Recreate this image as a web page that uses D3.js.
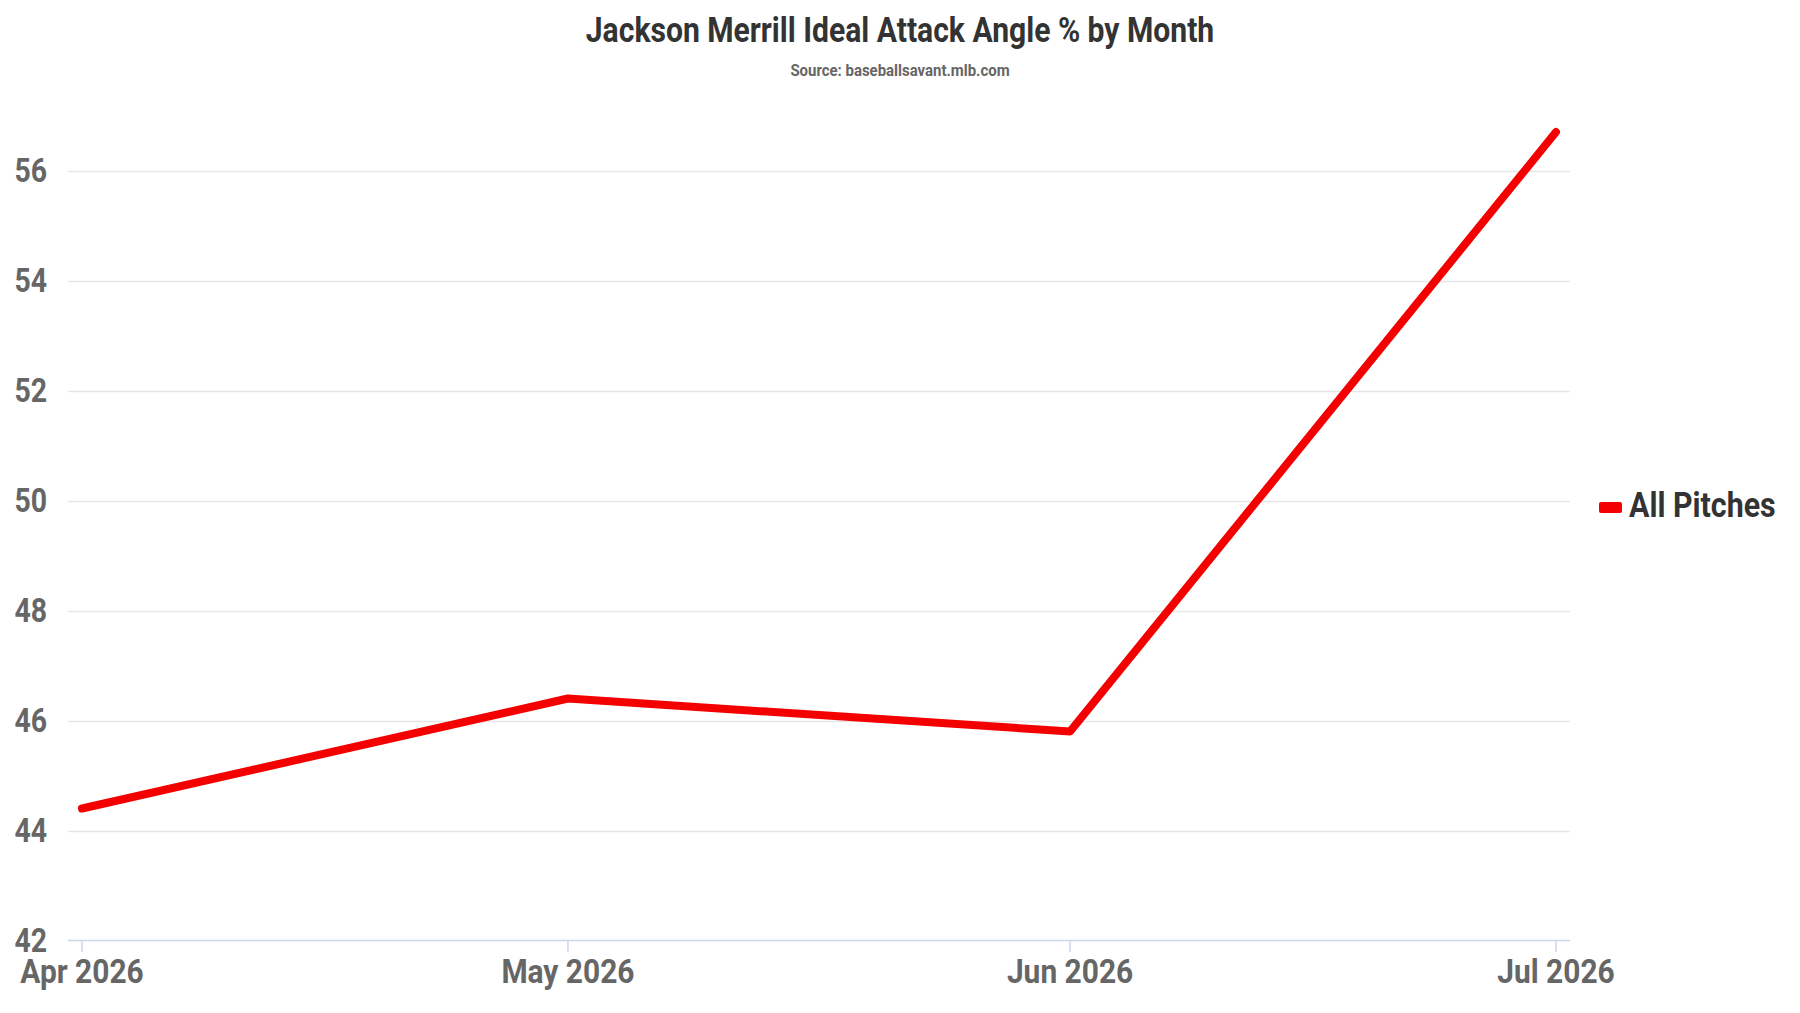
<!DOCTYPE html>
<html>
<head>
<meta charset="utf-8">
<script src="https://cdn.jsdelivr.net/npm/d3@7"></script>
<style>
  html, body { margin: 0; padding: 0; background: #fff; }
  svg text { font-family: Roboto, "Noto Sans", sans-serif; font-weight: 700; }
</style>
</head>
<body>
<div id="chart"></div>
<script>
// chart data
const months = ["2026-04-01", "2026-05-01", "2026-06-01", "2026-07-01"];
const idealPct = [44.4, 46.4, 45.8, 56.7];
const yTicks = [42, 44, 46, 48, 50, 52, 54, 56];
const seriesName = "All Pitches";
const chartTitle = "Jackson Merrill Ideal Attack Angle % by Month";
const chartSubtitle = "Source: baseballsavant.mlb.com";

const W = 1800, H = 1013;
const squeeze = 0.88; // fake a condensed face

const parse = d3.timeParse("%Y-%m-%d");
const data = months.map((m, i) => ({ date: parse(m), value: idealPct[i] }));

const svg = d3.select("#chart").append("svg")
    .attr("width", W)
    .attr("height", H);

const x = d3.scaleTime()
    .domain(d3.extent(data, d => d.date))
    .range([82, 1556]);

const y = d3.scaleLinear()
    .domain([42, 56])
    .range([940.5, 170.5]);

function label(g, tx, ty, txt, anchor) {
    return g.append("text")
        .attr("transform", `translate(${tx},${ty}) scale(${squeeze},1)`)
        .attr("text-anchor", anchor)
        .text(txt);
}

// title + subtitle
label(svg, W / 2, 42, chartTitle, "middle")
    .attr("fill", "#333")
    .style("font-size", "34.2px");
label(svg, W / 2, 76, chartSubtitle, "middle")
    .attr("fill", "#666")
    .style("font-size", "17px");

// gridlines
svg.append("g")
    .selectAll("line")
    .data(yTicks.filter(t => t !== 42))
    .join("line")
    .attr("x1", 68)
    .attr("x2", 1570)
    .attr("y1", d => Math.round(y(d)) + 0.5)
    .attr("y2", d => Math.round(y(d)) + 0.5)
    .attr("stroke", "#e6e6e6")
    .attr("stroke-width", 1.5);

// y labels
const yLab = svg.append("g");
yTicks.forEach(t => {
    label(yLab, 47, y(t), t, "end")
        .attr("dy", "0.36em")
        .attr("fill", "#666")
        .style("font-size", "32.3px");
});

// x axis line + ticks
svg.append("line")
    .attr("x1", 68)
    .attr("x2", 1570)
    .attr("y1", 940.5)
    .attr("y2", 940.5)
    .attr("stroke", "#ccd6eb")
    .attr("stroke-width", 1.5);

const xLab = svg.append("g");
const fmt = d3.timeFormat("%b %Y");
data.forEach(d => {
    xLab.append("line")
        .attr("x1", x(d.date))
        .attr("x2", x(d.date))
        .attr("y1", 940.5)
        .attr("y2", 952)
        .attr("stroke", "#ccd6eb")
        .attr("stroke-width", 1.5);
    label(xLab, x(d.date), 983, fmt(d.date), "middle")
        .attr("fill", "#666")
        .style("font-size", "34px");
});

// series line
const line = d3.line()
    .x(d => x(d.date))
    .y(d => y(d.value));

svg.append("path")
    .datum(data)
    .attr("d", line)
    .attr("fill", "none")
    .attr("stroke", "#f50000")
    .attr("stroke-width", 8)
    .attr("stroke-linejoin", "round")
    .attr("stroke-linecap", "round");

// legend
const legend = svg.append("g");
legend.append("rect")
    .attr("x", 1599)
    .attr("y", 502)
    .attr("width", 23)
    .attr("height", 11)
    .attr("rx", 2)
    .attr("fill", "#f50000");
label(legend, 1629, 517, seriesName, "start")
    .attr("fill", "#333")
    .style("font-size", "34.5px");
</script>
</body>
</html>
